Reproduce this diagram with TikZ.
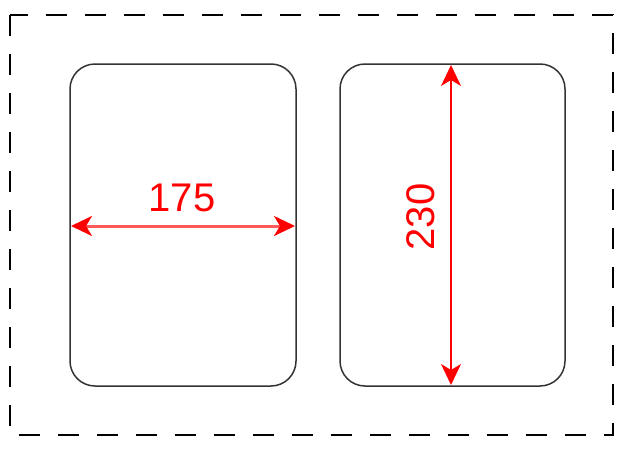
\documentclass[tikz,border=0pt]{standalone}
\usepackage{fontspec}
\setmainfont{Liberation Sans}
\usetikzlibrary{arrows.meta}
\begin{document}
\begin{tikzpicture}[x=1pt,y=-1pt,
  tray/.style={draw=black!80,line width=1.5pt,rounded corners=25pt},
  tip/.style={Stealth[length=21pt,width=20pt,inset=6pt,color=red]},
  dim/.style={draw=red,line width=1.8pt,{Stealth[length=21pt,width=20pt,inset=6pt,color=red]}-{Stealth[length=21pt,width=20pt,inset=6pt,color=red]}},
  dimlabel/.style={text=red,font=\fontsize{40}{40}\selectfont,inner sep=0pt}]
\useasboundingbox (0,0) rectangle (626,450);
\draw[line width=1.8pt,dash pattern=on 21pt off 18pt] (10,15) rectangle (613,435);
\draw[tray] (70,64) rectangle (296,386);
\draw[tray] (340,64) rectangle (565,386);
\coordinate (hl) at (71,226);
\coordinate (hr) at (295,226);
\coordinate (vt) at (451,65);
\coordinate (vb) at (451,385);
\draw[dim,draw=red!65,line width=3pt] (hl) -- (hr);
\draw[dim,line width=1.5pt] (vt) -- (vb);
\node[dimlabel] (w) at (182,198) {175};
\node[dimlabel,rotate=90] (h) at (421,217) {230};
\end{tikzpicture}
\end{document}
